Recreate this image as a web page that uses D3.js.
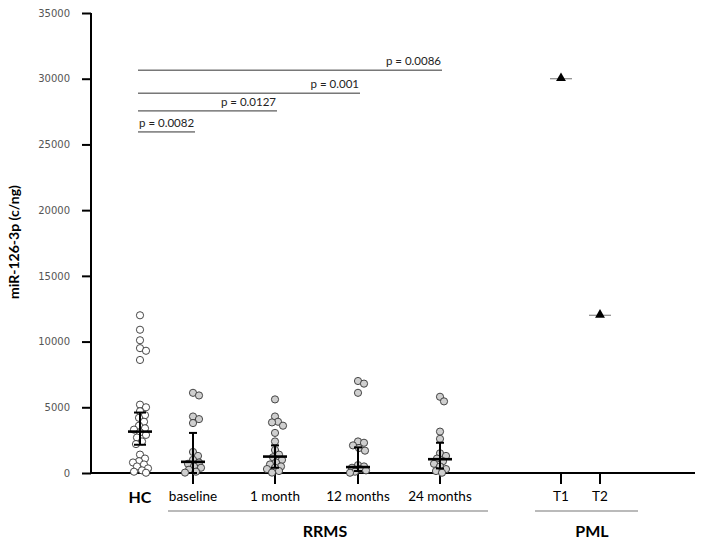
<!DOCTYPE html>
<html>
<head>
<meta charset="utf-8">
<script src="https://cdn.jsdelivr.net/npm/d3@7"></script>
<style>
  body { margin: 0; background: #fff; }
  svg { display: block; }
</style>
</head>
<body>
<div id="chart"></div>
<script>
const WIDTH = 702;
const HEIGHT = 542;

// categories and group layout
const categories = ['HC', 'baseline', '1 month', '12 months', '24 months', 'T1', 'T2'];
const categoryX = [140, 193, 275, 358, 440, 561, 600];
const yTicks = [0, 5000, 10000, 15000, 20000, 25000, 30000, 35000];

// values (c/ng)
const hcValues = [12000, 10900, 10100, 9500, 9300, 8600, 5200, 5000, 4700, 4400, 4200, 3900,
                  3600, 3400, 3300, 3100, 2900, 2700, 2400, 2200, 1400, 1100, 900, 800,
                  650, 500, 350, 200, 100, 20];
const baselineValues = [6100, 5900, 4300, 4100, 3800, 1600, 1300, 1000, 800, 700, 500, 400, 250, 100, 30];
const month1Values = [5600, 4300, 3900, 3850, 3600, 3050, 2400, 1750, 1400, 1200, 1000, 800,
                      650, 500, 400, 300, 150, 30];
const month12Values = [7000, 6800, 6100, 2400, 2300, 2100, 1900, 1700, 600, 500, 400, 300, 200, 100, 20];
const month24Values = [5800, 5450, 3150, 2600, 1500, 1300, 1100, 900, 700, 500, 300, 150, 20];
const pmlValues = [30000, 12000];

// median line and whiskers per group
const summaryCats = ['HC', 'baseline', '1 month', '12 months', '24 months'];
const medians = [3150, 850, 1250, 450, 1050];
const upper = [4600, 3050, 2100, 1950, 2300];
const lower = [2150, 0, 400, 150, 350];

// significance brackets
const pLabels = ['p = 0.0086', 'p = 0.001', 'p = 0.0127', 'p = 0.0082'];
const pFrom = ['HC', 'HC', 'HC', 'HC'];
const pTo = ['24 months', '12 months', '1 month', 'baseline'];
const pLevel = [30650, 28900, 27550, 25950];

const svg = d3.select('#chart').append('svg')
    .attr('width', WIDTH)
    .attr('height', HEIGHT);

const y = d3.scaleLinear().domain([0, 35000]).range([473, 13]);
const x = d3.scaleOrdinal().domain(categories).range(categoryX);
const AXIS_X = 91;
const FONT = 'Lato, "Open Sans", sans-serif';

// y axis
const yAxis = svg.append('g')
    .attr('transform', 'translate(' + AXIS_X + ',0)')
    .call(d3.axisLeft(y).tickValues(yTicks).tickSize(9).tickPadding(12).tickFormat(d3.format('d')));
yAxis.select('.domain').attr('stroke', '#000').attr('stroke-width', 2).attr('d', 'M0,' + y(35000) + 'V' + y(0));
yAxis.selectAll('.tick line').attr('stroke', '#000').attr('stroke-width', 2);
yAxis.selectAll('.tick text')
    .attr('fill', '#555')
    .style('font-family', 'DejaVu Sans, Verdana, sans-serif')
    .style('font-size', '10px');

svg.append('text')
    .attr('transform', 'translate(19,242) rotate(-90)')
    .attr('text-anchor', 'middle')
    .style('font-family', FONT)
    .style('font-weight', 'bold')
    .style('font-size', '14px')
    .text('miR-126-3p (c/ng)');

// x axis line and ticks
svg.append('line')
    .attr('x1', AXIS_X).attr('x2', 695)
    .attr('y1', y(0)).attr('y2', y(0))
    .attr('stroke', '#000').attr('stroke-width', 2);

svg.selectAll('.xtick')
    .data(categories.filter(c => c !== 'HC'))
    .enter().append('line')
    .attr('class', 'xtick')
    .attr('x1', d => x(d)).attr('x2', d => x(d))
    .attr('y1', y(0)).attr('y2', y(0) + 11)
    .attr('stroke', '#000').attr('stroke-width', 2);

// category labels
svg.selectAll('.xlabel')
    .data(categories)
    .enter().append('text')
    .attr('class', 'xlabel')
    .attr('x', d => x(d))
    .attr('y', d => d === 'HC' ? 503 : 501)
    .attr('text-anchor', 'middle')
    .style('font-family', FONT)
    .style('font-size', d => d === 'HC' ? '16px' : '13.5px')
    .style('font-weight', d => d === 'HC' ? 'bold' : 'normal')
    .text(d => d);

// group underlines
const groups = [
    {name: 'RRMS', x1: 168, x2: 488, tx: 325},
    {name: 'PML', x1: 535, x2: 638, tx: 592}
];
svg.selectAll('.gline')
    .data(groups)
    .enter().append('line')
    .attr('x1', d => d.x1).attr('x2', d => d.x2)
    .attr('y1', 511).attr('y2', 511)
    .attr('stroke', '#777').attr('stroke-width', 1.2);
svg.selectAll('.gname')
    .data(groups)
    .enter().append('text')
    .attr('x', d => d.tx)
    .attr('y', 537)
    .attr('text-anchor', 'middle')
    .style('font-family', FONT)
    .style('font-weight', 'bold')
    .style('font-size', '16px')
    .text(d => d.name);

// compact dodge: circles may overlap a bit, spread at most MAXOFF px sideways
const MAXOFF = 8;
function dodge(vals, r) {
    let placed = [];
    return vals.map(v => {
        let py = y(v);
        let best = 0, bestD = -1;
        for (let k = 0; k <= 2 * MAXOFF; k++) {
            let off = (k % 2 ? 1 : -1) * Math.ceil(k / 2);
            let d = placed.length ? Math.min(...placed.map(p => Math.hypot(p.dx - off, p.py - py))) : 99;
            if (d >= 1.6 * r) { best = off; bestD = d; break; }
            if (d > bestD) { bestD = d; best = off; }
        }
        placed.push({dx: best, py});
        return {v, dx: best};
    });
}

const R = 3.6;
const series = [
    {cat: 'HC', vals: hcValues, fill: '#fff'},
    {cat: 'baseline', vals: baselineValues, fill: '#cfcfcf'},
    {cat: '1 month', vals: month1Values, fill: '#cfcfcf'},
    {cat: '12 months', vals: month12Values, fill: '#cfcfcf'},
    {cat: '24 months', vals: month24Values, fill: '#cfcfcf'}
];

series.forEach(s => {
    svg.append('g').selectAll('circle')
        .data(dodge(s.vals, R))
        .enter().append('circle')
        .attr('cx', d => x(s.cat) + d.dx)
        .attr('cy', d => y(d.v))
        .attr('r', R)
        .attr('fill', s.fill)
        .attr('stroke', '#333')
        .attr('stroke-width', 0.9);
});

// median + whiskers
summaryCats.forEach((c, i) => {
    let cx = x(c);
    let g = svg.append('g');
    let capW = c === 'HC' ? 6 : 4;
    g.append('line')
        .attr('x1', cx).attr('x2', cx)
        .attr('y1', y(upper[i])).attr('y2', y(lower[i]))
        .attr('stroke', '#000').attr('stroke-width', 2);
    [upper[i], lower[i]].forEach(v => {
        g.append('line')
            .attr('x1', cx - capW).attr('x2', cx + capW)
            .attr('y1', y(v)).attr('y2', y(v))
            .attr('stroke', '#000').attr('stroke-width', 2);
    });
    g.append('line')
        .attr('x1', cx - 12).attr('x2', cx + 12)
        .attr('y1', y(medians[i])).attr('y2', y(medians[i]))
        .attr('stroke', '#000').attr('stroke-width', 2.6);
});

// PML points
['T1', 'T2'].forEach((c, i) => {
    let cx = x(c), cy = y(pmlValues[i]);
    svg.append('line')
        .attr('x1', cx - 11).attr('x2', cx + 11)
        .attr('y1', cy).attr('y2', cy)
        .attr('stroke', '#888').attr('stroke-width', 1.2);
    svg.append('path')
        .attr('d', d3.symbol().type(d3.symbolTriangle).size(42)())
        .attr('transform', 'translate(' + cx + ',' + (cy - 0.5) + ')')
        .attr('fill', '#000');
});

// p-value brackets
pLabels.forEach((lab, i) => {
    let x1 = x(pFrom[i]) - 2, x2 = x(pTo[i]) + 2;
    let ly = y(pLevel[i]);
    svg.append('line')
        .attr('x1', x1).attr('x2', x2)
        .attr('y1', ly).attr('y2', ly)
        .attr('stroke', '#333').attr('stroke-width', 1);
    svg.append('text')
        .attr('x', i === 3 ? x1 + 1 : x2 - 1)
        .attr('y', ly - 5)
        .attr('text-anchor', i === 3 ? 'start' : 'end')
        .style('font-family', FONT)
        .style('font-size', '11.5px')
        .attr('fill', '#222')
        .text(lab);
});
</script>
</body>
</html>
